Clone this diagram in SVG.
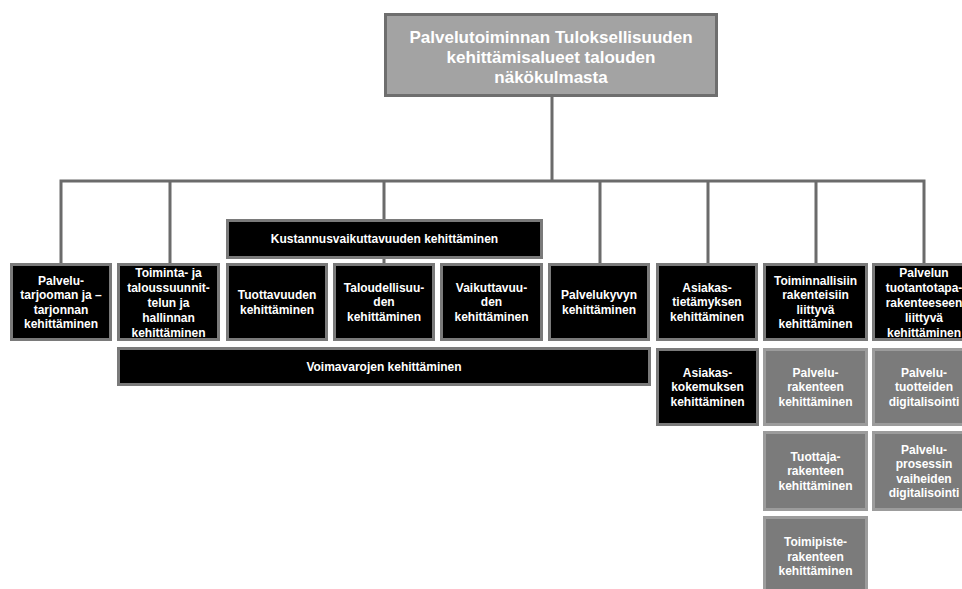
<svg xmlns="http://www.w3.org/2000/svg" width="962" height="589" viewBox="0 0 962 589">
<style>
text{font-family:"Liberation Sans",Arial,sans-serif;font-weight:bold;font-size:12px;fill:#fff;text-anchor:middle}
.blk{fill:#000;stroke:#7a7a7a;stroke-width:3}
.gry{fill:#7b7b7b;stroke:#9c9c9c;stroke-width:3}
.top{fill:#a3a3a3;stroke:#6e6e6e;stroke-width:3}
.top-t{font-size:17px}
.con{fill:none;stroke:#6b6b6b;stroke-width:3}
</style>
<rect width="962" height="589" fill="#fff"/>
<g id="connectors">
<path class="con" d="M552 97V181M61 263V181H924V263M170 181V263M384 181V263M600 181V263M708 181V263M816 181V263"/>
</g>
<g id="root">
<rect class="top" x="385.5" y="14.5" width="331" height="81"/>
<text class="top-t" x="551" y="43">Palvelutoiminnan Tuloksellisuuden</text>
<text class="top-t" x="551" y="63">kehittämisalueet talouden</text>
<text class="top-t" x="551" y="83">näkökulmasta</text>
</g>
<g id="n1">
<rect class="blk" x="11.5" y="264.5" width="99" height="75"/>
<text x="61" y="284.5">Palvelu-</text>
<text x="61" y="299">tarjooman ja –</text>
<text x="61" y="313.5">tarjonnan</text>
<text x="61" y="328">kehittäminen</text>
</g>
<g id="n2">
<rect class="blk" x="118.5" y="264.5" width="100" height="75"/>
<text x="168.5" y="277">Toiminta- ja</text>
<text x="168.5" y="292">taloussuunnit-</text>
<text x="168.5" y="307">telun ja</text>
<text x="168.5" y="322">hallinnan</text>
<text x="168.5" y="337">kehittäminen</text>
</g>
<g id="kust">
<rect class="blk" x="227.5" y="220.5" width="314" height="37"/>
<text x="384.5" y="243.3">Kustannusvaikuttavuuden kehittäminen</text>
</g>
<g id="n3">
<rect class="blk" x="227.5" y="264.5" width="99" height="75"/>
<text x="277" y="299">Tuottavuuden</text>
<text x="277" y="313.5">kehittäminen</text>
</g>
<g id="n4">
<rect class="blk" x="334.5" y="264.5" width="99" height="75"/>
<text x="384" y="291.8">Taloudellisuu-</text>
<text x="384" y="306.3">den</text>
<text x="384" y="320.8">kehittäminen</text>
</g>
<g id="n5">
<rect class="blk" x="441.5" y="264.5" width="100" height="75"/>
<text x="491.5" y="291.8">Vaikuttavuu-</text>
<text x="491.5" y="306.3">den</text>
<text x="491.5" y="320.8">kehittäminen</text>
</g>
<g id="n6">
<rect class="blk" x="549.5" y="264.5" width="99" height="75"/>
<text x="599" y="299">Palvelukyvyn</text>
<text x="599" y="313.5">kehittäminen</text>
</g>
<g id="n7">
<rect class="blk" x="657.5" y="264.5" width="99" height="75"/>
<text x="707" y="291.8">Asiakas-</text>
<text x="707" y="306.3">tietämyksen</text>
<text x="707" y="320.8">kehittäminen</text>
</g>
<g id="n8">
<rect class="blk" x="764.5" y="264.5" width="102" height="75"/>
<text x="815.5" y="284.5">Toiminnallisiin</text>
<text x="815.5" y="299">rakenteisiin</text>
<text x="815.5" y="313.5">liittyvä</text>
<text x="815.5" y="328">kehittäminen</text>
</g>
<g id="n9">
<rect class="blk" x="873.5" y="264.5" width="101" height="75"/>
<text x="924" y="277">Palvelun</text>
<text x="924" y="292">tuotantotapa-</text>
<text x="924" y="307">rakenteeseen</text>
<text x="924" y="322">liittyvä</text>
<text x="924" y="336.5">kehittäminen</text>
</g>
<g id="voim">
<rect class="blk" x="118.5" y="348.5" width="531" height="36"/>
<text x="384" y="370.8">Voimavarojen kehittäminen</text>
</g>
<g id="c1">
<rect class="blk" x="657.5" y="349.5" width="100" height="75"/>
<text x="707.5" y="376.8">Asiakas-</text>
<text x="707.5" y="391.3">kokemuksen</text>
<text x="707.5" y="405.8">kehittäminen</text>
</g>
<g id="g1">
<rect class="gry" x="764.5" y="349.5" width="102" height="75"/>
<text x="815.5" y="376.8">Palvelu-</text>
<text x="815.5" y="391.3">rakenteen</text>
<text x="815.5" y="405.8">kehittäminen</text>
</g>
<g id="g2">
<rect class="gry" x="873.5" y="349.5" width="101" height="75"/>
<text x="924" y="376.8">Palvelu-</text>
<text x="924" y="391.3">tuotteiden</text>
<text x="924" y="405.8">digitalisointi</text>
</g>
<g id="g3">
<rect class="gry" x="764.5" y="432.5" width="102" height="77"/>
<text x="815.5" y="460.8">Tuottaja-</text>
<text x="815.5" y="475.3">rakenteen</text>
<text x="815.5" y="489.8">kehittäminen</text>
</g>
<g id="g4">
<rect class="gry" x="873.5" y="432.5" width="101" height="77"/>
<text x="924" y="453.5">Palvelu-</text>
<text x="924" y="468">prosessin</text>
<text x="924" y="482.5">vaiheiden</text>
<text x="924" y="497">digitalisointi</text>
</g>
<g id="g5">
<rect class="gry" x="764.5" y="517.5" width="102" height="81"/>
<text x="815.5" y="546.3">Toimipiste-</text>
<text x="815.5" y="560.8">rakenteen</text>
<text x="815.5" y="575.3">kehittäminen</text>
</g>
</svg>
